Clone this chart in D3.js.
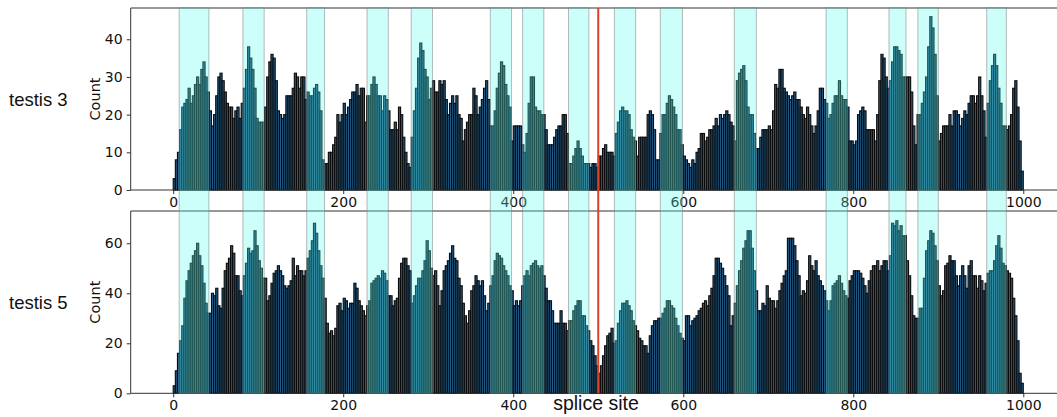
<!DOCTYPE html>
<html>
<head>
<meta charset="utf-8">
<script src="https://cdn.jsdelivr.net/npm/d3@7"></script>
<style>
  body { margin: 0; background: #fff; }
  svg { display: block; }
</style>
</head>
<body>
<div id="chart"></div>
<script>
// histogram counts, bins of 2.5 from 0 to 1000 (400 bins per sample)
const testis3Counts = [
  3,8,10,16,22,23,24,27,23,25,28,30,28,32,34,30,26,21,17,20,25,30,31,29,26,23,22,22,19,21,22,19,23,27,32,38,35,32,27,19,18,18,18,22,30,34,36,35,29,21,20,19,20,25,25,25,27,31,30,27,30,30,24,26,25,25,27,28,26,21,8,7,7,10,
  10,12,14,20,18,20,23,20,22,24,26,26,28,25,27,27,18,25,25,28,30,28,25,25,21,25,24,21,16,16,18,16,22,20,14,10,7,6,14,21,27,35,39,37,32,30,24,27,29,26,26,29,28,29,24,20,23,25,23,25,20,19,13,16,18,20,20,27,25,20,22,24,27,29,24,17,17,21,27,31,34,33,28,25,22,13,17,17,17,17,12,10,15,23,
  30,30,22,21,21,20,20,16,12,12,12,14,16,17,17,20,20,15,7,7,9,11,13,11,9,7,7,7,6,7,7,6,9,9,11,12,10,10,10,9,15,18,21,22,21,21,20,16,14,13,9,14,14,14,14,20,21,20,16,8,8,15,20,20,23,25,24,22,20,16,16,12,9,8,7,6,8,7,10,11,15,15,13,14,16,16,17,19,17,20,19,20,21,20,
  18,17,13,29,31,32,33,29,22,20,20,15,11,11,14,16,16,16,17,16,21,28,27,32,32,27,26,25,24,25,26,24,24,22,20,19,22,20,17,15,17,21,27,27,24,23,19,20,23,25,25,29,25,24,24,22,13,13,12,13,20,21,22,21,16,16,16,16,13,20,29,36,35,30,27,29,34,38,38,37,
  36,30,30,30,30,26,17,12,20,20,23,26,30,38,46,43,36,25,13,15,17,17,17,20,17,21,21,20,17,19,21,20,23,25,25,23,25,30,25,21,14,23,29,33,36,33,27,23,17,17,16,17,20,27,29,22,13,5
];
const testis5Counts = [
  3,9,16,21,27,38,45,49,52,55,57,60,55,51,44,36,32,32,40,39,42,35,34,42,49,52,54,59,56,47,47,41,39,47,52,58,56,57,65,59,53,50,46,46,37,39,44,48,49,51,49,47,43,42,43,45,54,47,51,49,49,47,49,54,57,61,68,64,57,51,46,38,28,24,
  25,23,26,35,36,33,38,37,34,36,36,44,42,37,35,33,31,35,37,44,45,46,47,46,49,48,45,39,39,35,37,38,46,52,54,54,51,49,36,39,43,46,46,49,53,61,57,50,47,49,43,35,41,49,51,53,56,59,54,53,46,43,36,31,28,33,41,43,47,45,43,45,39,33,36,43,47,53,56,55,54,51,49,47,43,41,35,37,35,37,43,47,49,47,
  51,52,53,51,50,51,47,42,37,37,33,28,28,28,33,28,28,25,29,29,33,35,37,37,31,31,27,25,21,19,15,11,8,11,15,19,23,24,26,20,21,28,33,36,36,37,35,33,29,27,25,22,21,19,19,16,23,27,29,29,30,30,32,34,37,37,35,34,30,27,24,22,21,31,31,27,29,30,31,33,34,36,37,35,39,42,47,54,54,52,50,47,43,39,
  27,31,36,43,49,53,58,61,65,65,58,49,41,33,33,36,35,43,38,37,37,34,37,41,44,47,49,62,62,62,59,53,47,39,41,40,45,55,51,49,53,47,45,43,41,37,33,37,43,44,45,47,44,41,39,38,45,47,49,49,49,48,46,43,40,45,49,51,51,53,49,51,53,53,49,55,68,67,69,65,
  67,63,63,53,47,39,31,30,30,34,34,46,57,61,65,64,59,53,43,39,41,51,52,55,53,53,47,43,47,51,47,42,51,53,47,47,42,47,45,41,44,48,49,49,53,59,63,58,52,51,49,48,46,38,31,21,8,4
];
const binWidth = 2.5;
const panelNames = ['testis 3', 'testis 5'];
// highlighted regions [start, end]
const regions = [
  [7,42],[82,107],[157,178],[228,253],[280,305],[373,398],[411,436],[465,489],
  [519,544],[573,599],[660,686],[768,793],[842,862],[876,900],[957,980]
];
const spliceSite = 500;
const xTicks = [0, 200, 400, 600, 800, 1000];
const topYTicks = [0, 10, 20, 30, 40];
const bottomYTicks = [0, 20, 40, 60];
const yLimits = [48.3, 72.9];

const W = 1057, H = 417;
const svg = d3.select('#chart').append('svg')
  .attr('width', W).attr('height', H)
  .style('font-family', 'DejaVu Sans, sans-serif');

const x = d3.scaleLinear().domain([-50, 1050]).range([130.7, 1065.8]);

const panels = [
  {name: panelNames[0], counts: testis3Counts, ticks: topYTicks, ymax: yLimits[0], top: 8, bottom: 190},
  {name: panelNames[1], counts: testis5Counts, ticks: bottomYTicks, ymax: yLimits[1], top: 211, bottom: 393.3}
];

panels.forEach(function(p) {
  const y = d3.scaleLinear().domain([0, p.ymax]).range([p.bottom, p.top]);
  const g = svg.append('g');

  g.append('rect')
    .attr('x', x.range()[0]).attr('y', p.top)
    .attr('width', W - x.range()[0]).attr('height', p.bottom - p.top)
    .attr('fill', '#fff');

  //bars
  g.selectAll('rect.bar').data(p.counts).enter().append('rect')
    .attr('class', 'bar')
    .attr('x', (d, i) => x(i * binWidth))
    .attr('y', d => y(d))
    .attr('width', x(binWidth) - x(0))
    .attr('height', d => y(0) - y(d))
    .attr('fill', '#225d88')
    .attr('stroke', '#0a0a0a')
    .attr('stroke-width', 1.1);

  //axes
  const yAxis = d3.axisLeft(y).tickValues(p.ticks).tickSize(4).tickPadding(4);
  const ya = g.append('g').attr('transform', 'translate(' + x.range()[0] + ',0)').call(yAxis);
  const xAxis = d3.axisBottom(x).tickValues(xTicks).tickFormat(d3.format('d')).tickSize(4).tickPadding(3);
  const xa = g.append('g').attr('transform', 'translate(0,' + p.bottom + ')').call(xAxis);
  [ya, xa].forEach(function(a) {
    a.select('.domain').remove();
    a.selectAll('line').attr('stroke', '#333');
    a.selectAll('text').attr('fill', '#111').style('font-size', '14px')
      .style('font-family', 'DejaVu Sans, sans-serif');
  });

  //spines
  g.append('line').attr('x1', x.range()[0]).attr('x2', x.range()[0])
    .attr('y1', p.top).attr('y2', p.bottom).attr('stroke', '#333').attr('stroke-width', 1);
  g.append('line').attr('x1', x.range()[0]).attr('x2', W)
    .attr('y1', p.bottom).attr('y2', p.bottom).attr('stroke', '#333').attr('stroke-width', 1);
  g.append('line').attr('x1', x.range()[0]).attr('x2', W)
    .attr('y1', p.top).attr('y2', p.top).attr('stroke', '#333').attr('stroke-width', 1);

  g.append('text')
    .attr('transform', 'translate(100,' + ((p.top + p.bottom) / 2) + ') rotate(-90)')
    .attr('text-anchor', 'middle')
    .style('font-size', '14.5px').attr('fill', '#111')
    .text('Count');

  g.append('text')
    .attr('x', 9).attr('y', (p.top + p.bottom) / 2 + 7)
    .style('font-family', 'Liberation Sans, Arial, sans-serif')
    .style('font-size', '18.5px').attr('fill', '#111')
    .text(p.name);
});

svg.append('text')
  .attr('x', 596).attr('y', 410)
  .attr('text-anchor', 'middle')
  .style('font-family', 'Liberation Sans, Arial, sans-serif')
  .style('font-size', '19.5px').attr('fill', '#111')
  .text('splice site');

//highlighted regions, drawn over both panels
const spanTop = panels[0].top, spanBottom = panels[1].bottom;
svg.append('g').selectAll('rect').data(regions).enter().append('rect')
  .attr('x', d => x(d[0]))
  .attr('y', spanTop)
  .attr('width', d => x(d[1]) - x(d[0]))
  .attr('height', spanBottom - spanTop)
  .attr('fill', 'rgb(85,255,240)')
  .attr('fill-opacity', 0.3)
  .attr('stroke', '#777')
  .attr('stroke-opacity', 0.5)
  .attr('stroke-width', 1);

svg.append('line')
  .attr('x1', x(spliceSite)).attr('x2', x(spliceSite))
  .attr('y1', spanTop).attr('y2', spanBottom)
  .attr('stroke', '#d9412b').attr('stroke-width', 2);
</script>
</body>
</html>
